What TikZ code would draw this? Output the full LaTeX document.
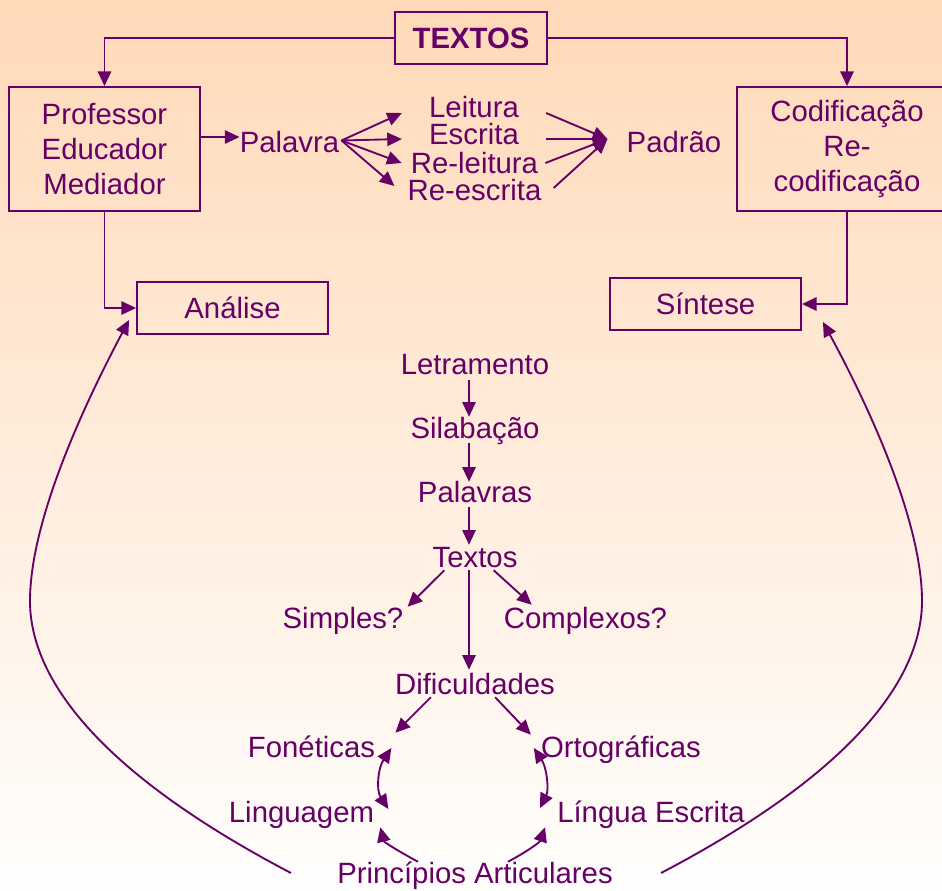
\documentclass[tikz,border=0pt]{standalone}
\usepackage{fontspec}
\setmainfont{Liberation Sans}
\usetikzlibrary{arrows.meta,calc}
\definecolor{pur}{HTML}{660066}
\definecolor{bgtop}{HTML}{FFD9B8}
\definecolor{bgmid}{HTML}{FFF2E8}
\definecolor{bgbot}{HTML}{FFFEFD}
\begin{document}
\begin{tikzpicture}[x=0.75pt,y=-0.75pt,
  font=\fontsize{22}{26.25}\selectfont,
  every node/.style={text=pur},
  lbl/.style={inner sep=0pt,text height=15.75pt,text depth=4.5pt,anchor=base},
  box/.style={draw=pur,line width=1.4pt,align=center,inner sep=0pt},
  arr/.style={draw=pur,line width=1.4pt,-{Triangle[length=11pt,width=10pt]}},
  darr/.style={draw=pur,line width=1.4pt,{Triangle[length=11pt,width=10pt]}-{Triangle[length=11pt,width=10pt]}},
  ln/.style={draw=pur,line width=1.4pt}]
\useasboundingbox (0,0) rectangle (942,890);
\clip (0,0) rectangle (942,890);
\shade[top color=bgtop,middle color=bgmid,bottom color=bgbot] (0,0) rectangle (942,890);

% top boxes
\node[box,font=\fontsize{22}{26.25}\selectfont\bfseries,minimum width=114pt,minimum height=39pt] (tx) at (471,38) {TEXTOS};
\node[box,minimum width=143.25pt,minimum height=93pt] (prof) at (104.5,149) {Professor\\Educador\\Mediador};
\node[box,minimum width=165pt,minimum height=93pt] (cod) at (847,149) {Codificação\\Re-\\codificação};
\node[box,minimum width=143.25pt,minimum height=39pt] (ana) at (232.5,308) {Análise};
\node[box,minimum width=143.25pt,minimum height=39pt] (sin) at (705.5,304) {Síntese};

\draw[arr] (tx.west) -| (prof.north);
\draw[arr] (tx.east) -| (cod.north);
\draw[arr] (prof.south) |- (ana.west);
\draw[arr] (cod.south) |- (sin.east);

% Palavra row
\node[lbl] (pal) at (289.5,152) {Palavra};
\node[lbl] (lei) at (474,117) {Leitura};
\node[lbl] (esc) at (474,144) {Escrita};
\node[lbl] (rlei) at (474.5,173) {Re-leitura};
\node[lbl] (resc) at (474.5,200) {Re-escrita};
\node[lbl] (pad) at (674,152) {Padrão};

\coordinate (pw) at ([shift={(0,-7.5)}]pal.west);
\draw[arr] (pw -| prof.east) -- (pw);
\coordinate (pe) at ([shift={(2,-4)}]pal.east);
\draw[arr] (pe) -- ([shift={(-27,3.5)}]lei.west);
\draw[arr] (pe) -- ([shift={(-27,2.5)}]esc.west);
\draw[arr] (pe) -- ([shift={(-9,-2.5)}]rlei.west);
\draw[arr] (pe) -- ([shift={(-13,-6.5)}]resc.west);
\coordinate (pin) at ([shift={(-19,-5.5)}]pad.west);
\draw[arr] ([shift={(27,3.5)}]lei.east) -- (pin);
\draw[arr] ([shift={(27,2.5)}]esc.east) -- (pin);
\draw[arr] ([shift={(7,-2.5)}]rlei.east) -- (pin);
\draw[arr] ([shift={(12,-4.5)}]resc.east) -- (pin);

% central column
\node[lbl] (let) at (475,374) {Letramento};
\node[lbl] (sil) at (475,438) {Silabação};
\node[lbl] (pals) at (475,502) {Palavras};
\node[lbl] (txts) at (475,567) {Textos};
\node[lbl] (simp) at (343,628) {Simples?};
\node[lbl] (comp) at (585.5,628) {Complexos?};
\node[lbl] (dif) at (475,694) {Dificuldades};
\node[lbl] (fon) at (311.5,757) {Fonéticas};
\node[lbl] (ort) at (621,757) {Ortográficas};
\node[lbl] (ling) at (301.5,822) {Linguagem};
\node[lbl] (lesc) at (651,822) {Língua Escrita};
\node[lbl] (pri) at (475,883) {Princípios Articulares};

\draw[arr] ([shift={(-6,0)}]let.south) -- ([shift={(-6,0)}]sil.north);
\draw[arr] ([shift={(-6,-1)}]sil.south) -- ([shift={(-6,1)}]pals.north);
\draw[arr] ([shift={(-6,-1)}]pals.south) -- ([shift={(-6,-1)}]txts.north);
\draw[arr] ([shift={(-6,-3)}]txts.south) -- ([shift={(-6,-3)}]dif.north);
\draw[arr] ([shift={(12,-3)}]txts.south west) -- ([shift={(4,0)}]simp.north east);
\draw[arr] ([shift={(-24,-3)}]txts.south east) -- ([shift={(28,-2)}]comp.north west);
\draw[arr] ([shift={(36,-3)}]dif.south west) -- ([shift={(20,-3)}]fon.north east);
\draw[arr] ([shift={(-60,-3)}]dif.south east) -- ([shift={(-10,-1)}]ort.north west);

\draw[darr] ([shift={(16,-1.5)}]fon.east) .. controls (378,768) and (376,790) .. ([shift={(14,-5.5)}]ling.east);
\draw[darr] ([shift={(-7,-1.5)}]ort.west) .. controls (547,768) and (549,790) .. ([shift={(-17,-6.5)}]lesc.west);

\draw[arr] ([shift={(81,0)}]pri.north west) .. controls (398,851) and (384,842) .. ([shift={(6,-1)}]ling.south east);
\draw[arr] ([shift={(-105,0)}]pri.north east) .. controls (528,851) and (540,842) .. ([shift={(-12,-1)}]lesc.south west);

% big curves
\coordinate (ls) at ([shift={(-46,-2.5)}]pri.west);
\coordinate (le) at ([shift={(-7,-15)}]ana.south west);
\coordinate (lm) at (30,601);
\coordinate (rs) at ([shift={(48,-2.5)}]pri.east);
\coordinate (re) at ([shift={(21,-9)}]sin.south east);
\coordinate (rm) at (922,601);
\draw[arr] (ls) .. controls (85,765) and (30,670) .. (lm) .. controls (30,520) and (85,403) .. (le);
\draw[arr] (rs) .. controls (867,765) and (922,670) .. (rm) .. controls (922,520) and (867,403) .. (re);
\end{tikzpicture}
\end{document}
